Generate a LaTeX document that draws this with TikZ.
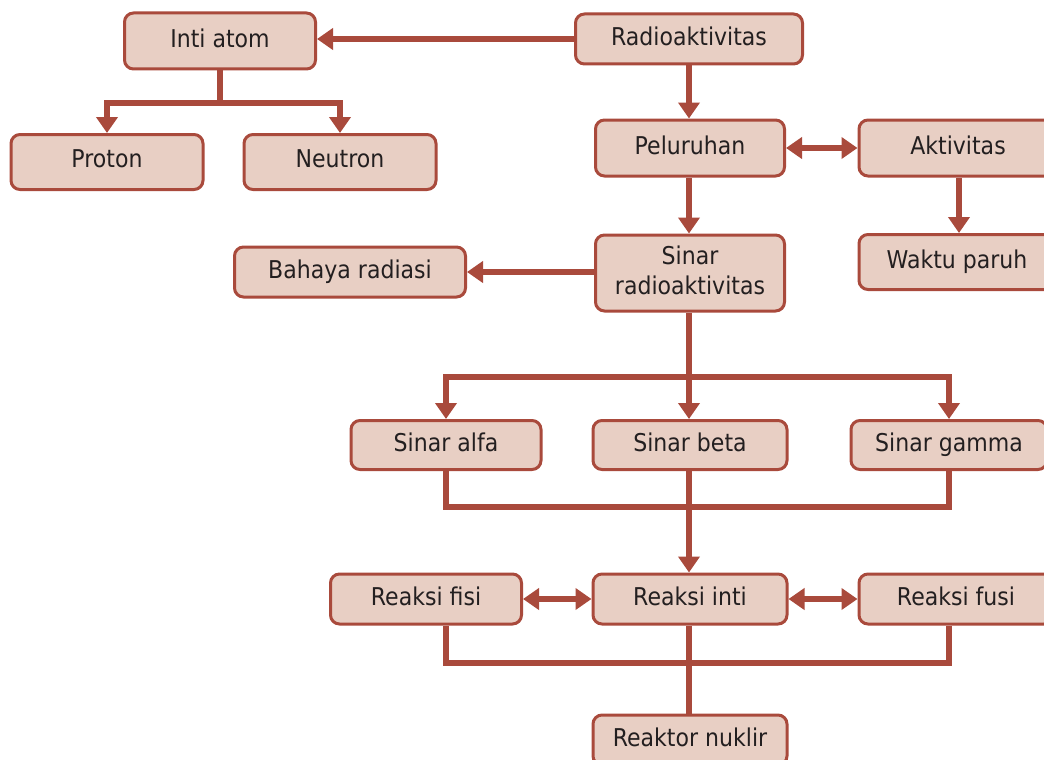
\documentclass[tikz,border=0pt]{standalone}
\usepackage{fontspec}
\setmainfont{DejaVu Sans}[FakeStretch=0.9]
\usetikzlibrary{arrows.meta}
\definecolor{edgec}{HTML}{A94A3C}
\definecolor{boxfill}{HTML}{E8CFC4}
\definecolor{txtc}{HTML}{231F20}
\begin{document}
\begin{tikzpicture}[x=1pt,y=-1pt,
  box/.style={draw=edgec, fill=boxfill, line width=3pt, rounded corners=9pt,
    text=txtc, font=\fontsize{24.5}{30}\selectfont, inner sep=0pt, align=center,
    text depth=6pt},
  conn/.style={draw=edgec, line width=5.5pt},
  arr/.style={conn, -{Triangle[width=21pt,length=16pt]}},
  dbl/.style={conn, {Triangle[width=21pt,length=16pt]}-{Triangle[width=21pt,length=16pt]}}]
\useasboundingbox (0,0) rectangle (1044,760);
% columns
\coordinate (cL) at (446,0);
\coordinate (cM) at (689,0);
\coordinate (cR) at (949,0);
\coordinate (cW) at (959,0);
% nodes
\node[box, minimum width=191pt, minimum height=56pt] (inti) at (220,41) {Inti atom};
\node[box, minimum width=227pt, minimum height=50pt] (radio) at (689,39) {Radioaktivitas};
\node[box, minimum width=192pt, minimum height=55pt] (proton) at (107,162) {Proton};
\node[box, minimum width=192pt, minimum height=55pt] (neutron) at (340,162) {Neutron};
\node[box, minimum width=189pt, minimum height=56pt] (pel) at (690,148) {Peluruhan};
\node[box, minimum width=198pt, minimum height=56pt] (akt) at (958,148) {Aktivitas};
\node[box, minimum width=189pt, minimum height=76pt] (srad) at (690,273) {Sinar\\radioaktivitas};
\node[box, minimum width=231pt, minimum height=50pt] (bahaya) at (350,272) {Bahaya radiasi};
\node[box, minimum width=196pt, minimum height=55pt] (waktu) at (957,262) {Waktu paruh};
\node[box, minimum width=190pt, minimum height=49pt] (alfa) at (446,445) {Sinar alfa};
\node[box, minimum width=194pt, minimum height=49pt] (beta) at (690,445) {Sinar beta};
\node[box, minimum width=196pt, minimum height=49pt] (gamma) at (949,445) {Sinar gamma};
\node[box, minimum width=191pt, minimum height=50pt] (fisi) at (426,599) {Reaksi fisi};
\node[box, minimum width=194pt, minimum height=50pt] (rinti) at (690,599) {Reaksi inti};
\node[box, minimum width=194pt, minimum height=50pt] (fusi) at (956,599) {Reaksi fusi};
\node[box, minimum width=194pt, minimum height=50pt] (reaktor) at (690,740) {Reaktor nuklir};
% connectors
\draw[arr] (radio.west) -- (radio.west -| inti.east);
\coordinate (j1) at (220,103);
\draw[conn] (inti.south) -- (j1);
\draw[arr] (j1) -| (proton.north);
\draw[arr] (j1) -| (neutron.north);
\draw[arr] (radio.south -| cM) -- (pel.north -| cM);
\draw[dbl] (pel.east) -- (akt.west);
\draw[arr] (akt.south -| cW) -- (waktu.north -| cW);
\draw[arr] (pel.south -| cM) -- (srad.north -| cM);
\draw[arr] (srad.west |- bahaya.east) -- (bahaya.east);
\coordinate (j2) at (689,377);
\draw[conn] (srad.south -| cM) -- (j2);
\draw[arr] (j2) -| (alfa.north -| cL);
\draw[arr] (j2) -- (beta.north -| cM);
\draw[arr] (j2) -| (gamma.north -| cR);
\coordinate (j3) at (689,507);
\draw[conn] (alfa.south -| cL) |- (j3);
\draw[conn] (gamma.south -| cR) |- (j3);
\draw[arr] (beta.south -| cM) -- (rinti.north -| cM);
\draw[dbl] (fisi.east) -- (rinti.west);
\draw[dbl] (rinti.east) -- (fusi.west);
\coordinate (j4) at (689,663);
\draw[conn] (fisi.south -| cL) |- (j4);
\draw[conn] (fusi.south -| cR) |- (j4);
\draw[conn] (rinti.south -| cM) -- (reaktor.north -| cM);
\end{tikzpicture}
\end{document}
